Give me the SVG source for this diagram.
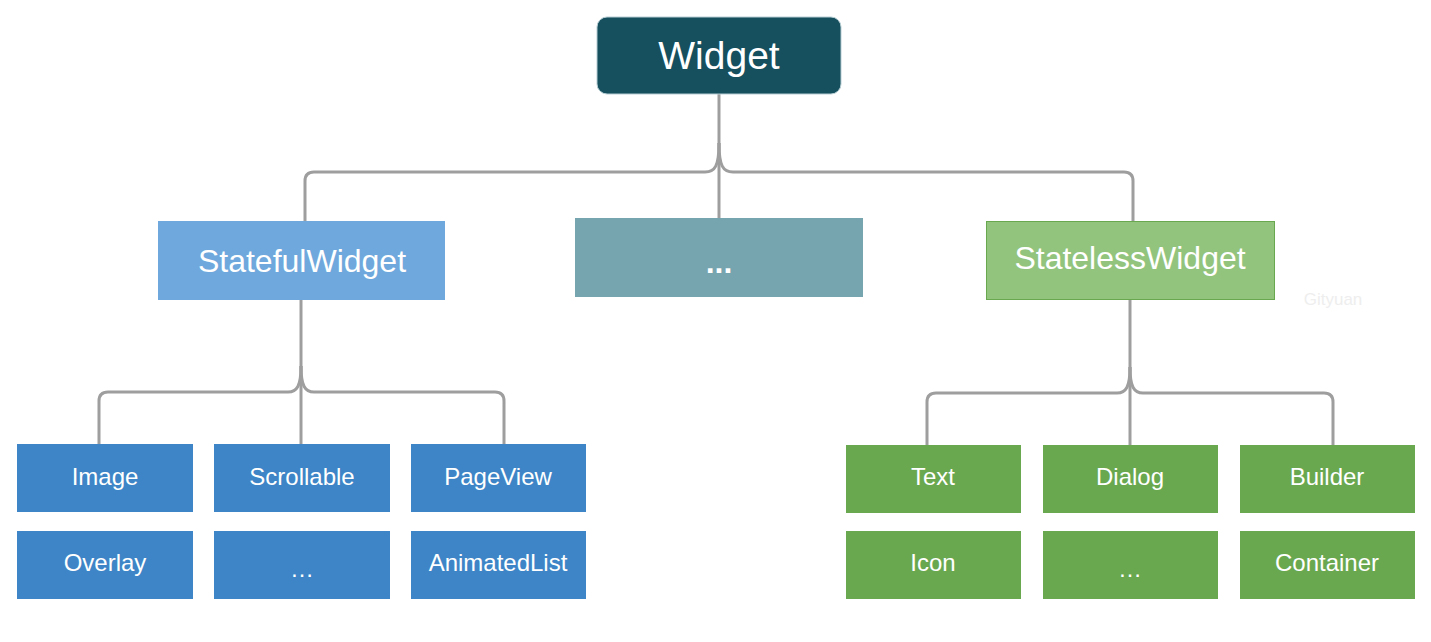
<svg xmlns="http://www.w3.org/2000/svg" width="1431" height="642" viewBox="0 0 1431 642">
<style>
text{font-family:"Liberation Sans",Arial,sans-serif;fill:#fff;text-anchor:middle}
.c{fill:none;stroke:#9e9e9e;stroke-width:3}
.lbl{font-size:24px}
.blue{fill:#3d85c6}
.green{fill:#6aa84f}
</style>
<rect width="1431" height="642" fill="#fff"/>
<g id="connectors">
<path class="c" d="M719 94 V218"/>
<path class="c" d="M305 221 V181 Q305 172 314 172 H705 C715 172 719 166 719 143"/>
<path class="c" d="M1133 221 V181 Q1133 172 1124 172 H733 C723 172 719 166 719 143"/>
<path class="c" d="M301 300 V444"/>
<path class="c" d="M99 444 V401 Q99 392 108 392 H288 C297 392 301 386 301 366"/>
<path class="c" d="M504 444 V401 Q504 392 495 392 H314 C305 392 301 386 301 366"/>
<path class="c" d="M1130 300 V445"/>
<path class="c" d="M927 445 V402 Q927 393 936 393 H1117 C1126 393 1130 387 1130 367"/>
<path class="c" d="M1333 445 V402 Q1333 393 1324 393 H1143 C1134 393 1130 387 1130 367"/>
</g>
<g id="widget"><rect x="597" y="17" width="244" height="77" rx="10" fill="#164f5e" stroke="#b5cdd3" stroke-width="1"/><text x="719" y="69" font-size="39">Widget</text></g>
<g id="statefulwidget"><rect x="158" y="221" width="287" height="79" fill="#6fa8dc"/><text x="302" y="272" font-size="32">StatefulWidget</text></g>
<g id="more-top"><rect x="575" y="218" width="288" height="79" fill="#76a5af"/><text x="719" y="273" font-size="32" font-weight="bold">...</text></g>
<g id="statelesswidget"><rect x="986.5" y="221.5" width="288" height="78" fill="#93c47d" stroke="#6aa84f" stroke-width="1"/><text x="1130" y="269" font-size="32">StatelessWidget</text></g>
<g id="image"><rect class="blue" x="17" y="444" width="176" height="68"/><text class="lbl" x="105" y="485">Image</text></g>
<g id="scrollable"><rect class="blue" x="214" y="444" width="176" height="68"/><text class="lbl" x="302" y="485">Scrollable</text></g>
<g id="pageview"><rect class="blue" x="411" y="444" width="175" height="68"/><text class="lbl" x="498" y="485">PageView</text></g>
<g id="overlay"><rect class="blue" x="17" y="531" width="176" height="68"/><text class="lbl" x="105" y="571">Overlay</text></g>
<g id="more-blue"><rect class="blue" x="214" y="531" width="176" height="68"/><text class="lbl" x="302" y="577">…</text></g>
<g id="animatedlist"><rect class="blue" x="411" y="531" width="175" height="68"/><text class="lbl" x="498" y="571">AnimatedList</text></g>
<g id="text"><rect class="green" x="846" y="445" width="175" height="68"/><text class="lbl" x="933" y="485">Text</text></g>
<g id="dialog"><rect class="green" x="1043" y="445" width="175" height="68"/><text class="lbl" x="1130" y="485">Dialog</text></g>
<g id="builder"><rect class="green" x="1240" y="445" width="175" height="68"/><text class="lbl" x="1327" y="485">Builder</text></g>
<g id="icon"><rect class="green" x="846" y="531" width="175" height="68"/><text class="lbl" x="933" y="571">Icon</text></g>
<g id="more-green"><rect class="green" x="1043" y="531" width="175" height="68"/><text class="lbl" x="1130" y="577">…</text></g>
<g id="container"><rect class="green" x="1240" y="531" width="175" height="68"/><text class="lbl" x="1327" y="571">Container</text></g>
<text x="1333" y="305" font-size="17" style="fill:#eeeeee">Gityuan</text>
</svg>
